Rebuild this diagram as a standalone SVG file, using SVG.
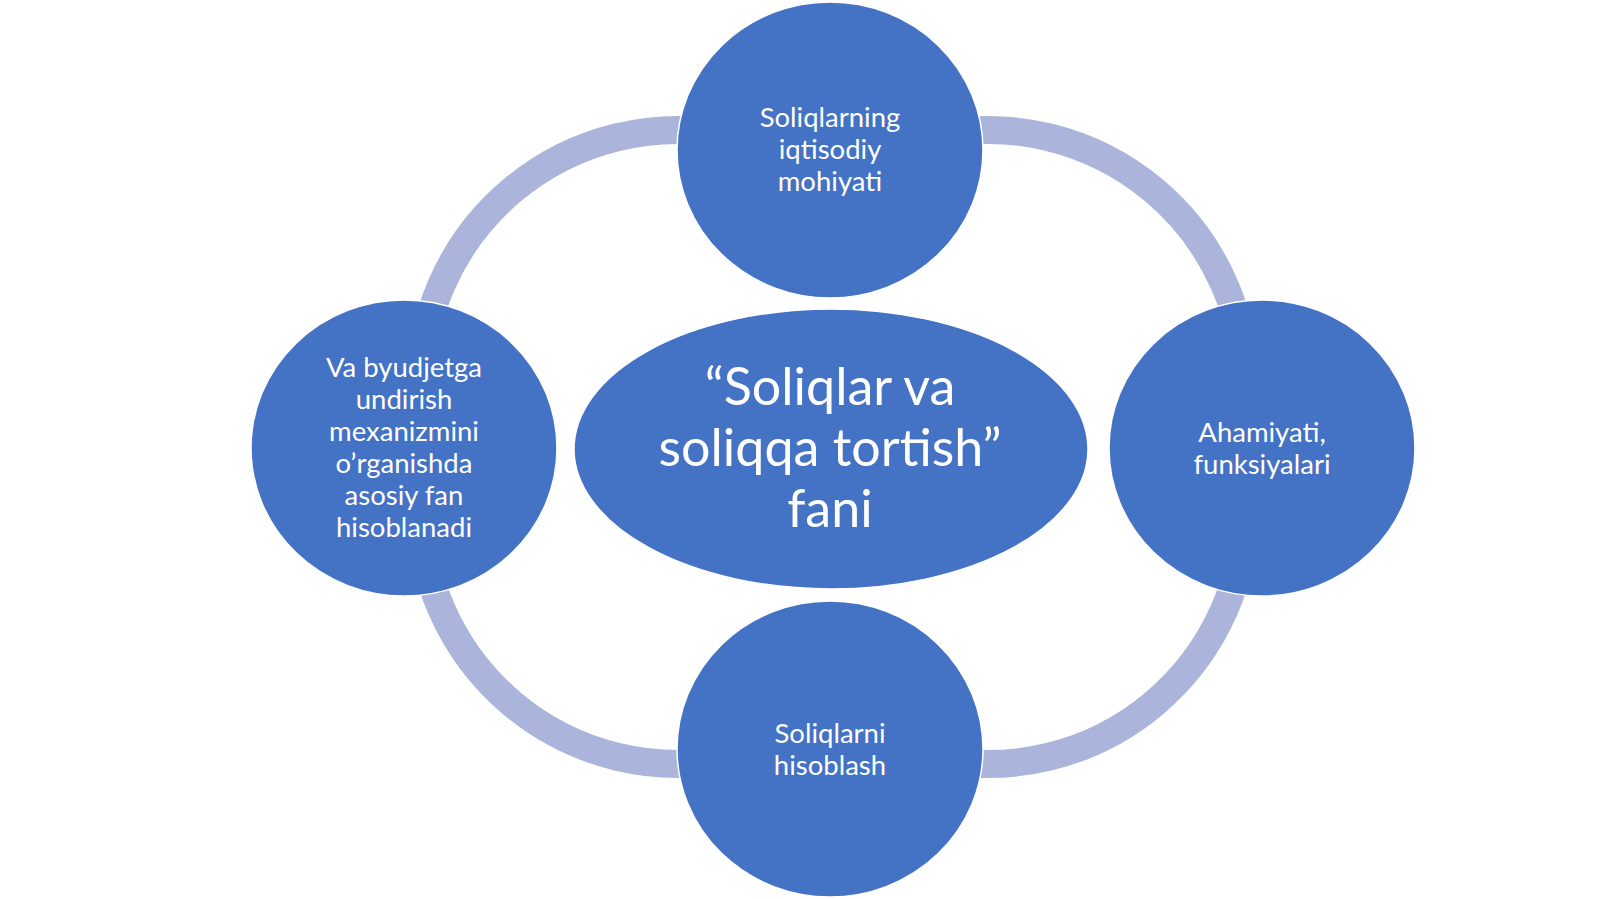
<svg xmlns="http://www.w3.org/2000/svg" width="1600" height="899" viewBox="0 0 1600 899">
<style>
.node{fill:#4472C4;stroke:#FFFFFF;stroke-width:1.5}
.ring{fill:none;stroke:#ABB5DB;stroke-width:28}
.lbl{font-family:Lato,"Liberation Sans",sans-serif;font-size:27.5px;fill:#FFFFFF;text-anchor:middle}
.big{font-family:Lato,"Liberation Sans",sans-serif;font-size:52px;fill:#FFFFFF;text-anchor:middle}
</style>
<rect width="1600" height="899" fill="#FFFFFF"/>
<g id="connectors">
<path class="ring" d="M 420 388 A 258 258 0 0 1 722.8 133.9"/>
<path class="ring" d="M 943.2 133.9 A 258 258 0 0 1 1246 388"/>
<path class="ring" d="M 1246 506 A 258 258 0 0 1 943.2 760.1"/>
<path class="ring" d="M 722.8 760.1 A 258 258 0 0 1 420 506"/>
</g>
<g id="node-top">
<ellipse class="node" cx="830" cy="150" rx="153" ry="148"/>
<text class="lbl"><tspan x="830" y="127">Soliqlarning</tspan><tspan x="830" y="159">iqtisodiy</tspan><tspan x="830" y="191">mohiyati</tspan></text>
</g>
<g id="node-right">
<ellipse class="node" cx="1262" cy="448" rx="153" ry="148"/>
<text class="lbl"><tspan x="1262" y="442">Ahamiyati,</tspan><tspan x="1262" y="474">funksiyalari</tspan></text>
</g>
<g id="node-bottom">
<ellipse class="node" cx="830" cy="749" rx="153" ry="148"/>
<text class="lbl"><tspan x="830" y="743">Soliqlarni</tspan><tspan x="830" y="775">hisoblash</tspan></text>
</g>
<g id="node-left">
<ellipse class="node" cx="404" cy="448" rx="153" ry="148"/>
<text class="lbl"><tspan x="404" y="377">Va byudjetga</tspan><tspan x="404" y="409">undirish</tspan><tspan x="404" y="441">mexanizmini</tspan><tspan x="404" y="473">o’rganishda</tspan><tspan x="404" y="505">asosiy fan</tspan><tspan x="404" y="537">hisoblanadi</tspan></text>
</g>
<g id="node-center">
<ellipse class="node" cx="831" cy="449" rx="257" ry="140"/>
<text class="big"><tspan x="830" y="405">“Soliqlar va</tspan><tspan x="830" y="466">soliqqa tortish”</tspan><tspan x="830" y="527">fani</tspan></text>
</g>
</svg>
